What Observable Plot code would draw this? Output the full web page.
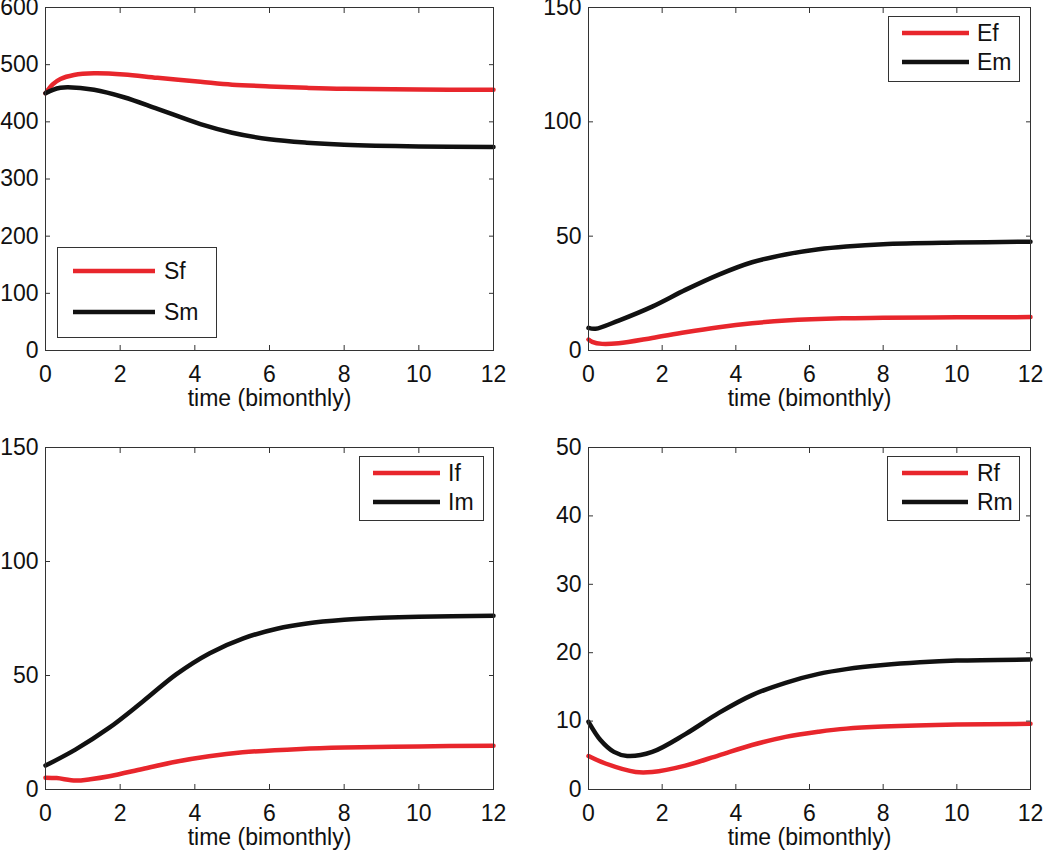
<!DOCTYPE html>
<html>
<head>
<meta charset="utf-8">
<script src="https://cdn.jsdelivr.net/npm/d3@7"></script>
<script src="https://cdn.jsdelivr.net/npm/@observablehq/plot@0.6"></script>
<style>
  body { margin: 0; background: #fff; }
  #wrap { position: relative; width: 1050px; height: 851px; font-family: "Liberation Sans", Arial, Helvetica, sans-serif; overflow: hidden; }
  .panel { position: absolute; }
  svg { overflow: visible; }
</style>
</head>
<body>
<div id="wrap"></div>
<script>
// ---- data ----
const xTicks = [0, 2, 4, 6, 8, 10, 12];
const xLabel = "time (bimonthly)";
const seriesColors = ["#e8262c", "#111111"];

// Panel 1: S
const sTf = [0, 0.2, 0.4, 0.76, 1.3, 2.1, 3, 4.15, 5, 6, 7, 8, 10, 12];
const sF  = [450, 466, 475, 482, 485, 483, 477, 470, 465, 462, 459.5, 457.7, 456.5, 456];
const sTm = [0, 0.2, 0.4, 0.6, 1.3, 2.1, 3, 4.15, 5, 6, 7, 8, 10, 12];
const sM  = [450, 456, 459.5, 460.5, 456, 443, 422.7, 396, 381, 369.5, 363.5, 360, 357, 356];
const sLabels = ["Sf", "Sm"];
const sYTicks = [0, 100, 200, 300, 400, 500, 600];

// Panel 2: E
const eTf = [0, 0.1, 0.37, 0.82, 1.73, 2.63, 3.54, 4.44, 5.35, 6.89, 8, 10, 12];
const eF  = [4.8, 3.8, 2.9, 3.2, 5.5, 8.0, 10.2, 11.9, 13.1, 14.1, 14.3, 14.5, 14.6];
const eTm = [0, 0.19, 0.82, 1.73, 2.63, 3.54, 4.44, 5.35, 6.25, 7, 8, 10, 12];
const eM  = [9.9, 9.5, 13.1, 19.2, 26.5, 33.2, 38.6, 42.0, 44.3, 45.5, 46.5, 47.2, 47.6];
const eLabels = ["Ef", "Em"];
const eYTicks = [0, 50, 100, 150];

// Panel 3: I
const iTf = [0, 0.3, 0.81, 1.2, 1.71, 2.6, 3.49, 4.38, 5.28, 6.84, 8, 10, 12];
const iF  = [5.2, 5.0, 3.9, 4.5, 5.8, 9.0, 12.2, 14.6, 16.3, 17.8, 18.4, 18.9, 19.2];
const iTm = [0, 0.8, 1.7, 2.6, 3.5, 4.4, 5.3, 6.2, 7, 8, 9, 10, 12];
const iM  = [10.5, 17.5, 27.0, 38.5, 50.5, 59.8, 66.3, 70.5, 72.8, 74.4, 75.3, 75.8, 76.2];
const iLabels = ["If", "Im"];
const iYTicks = [0, 50, 100, 150];

// Panel 4: R
const rTf = [0, 0.46, 1.28, 1.73, 2.63, 3.54, 4.44, 5.35, 6.25, 7, 8, 10, 12];
const rF  = [4.9, 3.8, 2.55, 2.55, 3.5, 5.0, 6.5, 7.7, 8.45, 8.9, 9.2, 9.5, 9.6];
const rTm = [0, 0.33, 0.69, 1.05, 1.73, 2.63, 3.54, 4.44, 5.35, 6.25, 7, 8, 9, 10, 12];
const rM  = [9.9, 7.2, 5.5, 4.9, 5.5, 8.1, 11.2, 13.8, 15.6, 16.9, 17.6, 18.2, 18.6, 18.85, 19.0];
const rLabels = ["Rf", "Rm"];
const rYTicks = [0, 10, 20, 30, 40, 50];

// ---- drawing ----
const FONT = 23;

function rows(t, v, s) { return t.map((x, i) => ({t: x, v: v[i], s})); }

function panel({left, top, width, height, m, yDomain, yTicks, f, m2, labels, legend}) {
  const data = [...rows(f[0], f[1], labels[0]), ...rows(m2[0], m2[1], labels[1])];
  const plot = Plot.plot({
    width, height,
    marginLeft: m.l, marginRight: m.r, marginTop: m.t, marginBottom: m.b,
    style: {fontFamily: '"Liberation Sans", Arial, sans-serif', fontSize: FONT + "px", color: "#111", background: "transparent", overflow: "visible"},
    x: {domain: [0, 12], ticks: xTicks},
    y: {domain: yDomain, ticks: yTicks},
    color: {domain: labels, range: seriesColors},
    marks: [
      Plot.line(data, {x: "t", y: "v", z: "s", stroke: "s", strokeWidth: 4.5, curve: "catmull-rom"}),
      Plot.axisX({anchor: "bottom", ticks: xTicks, tickSize: 0, tickPadding: 15, fontSize: FONT, label: xLabel, labelAnchor: "center", labelArrow: "none", labelOffset: 55}),
      Plot.axisX({anchor: "bottom", ticks: xTicks, tickSize: -5, text: null, label: null, stroke: "#333"}),
      Plot.axisX({anchor: "top", ticks: xTicks, tickSize: -5, text: null, label: null, stroke: "#333"}),
      Plot.axisY({anchor: "left", ticks: yTicks, tickSize: 0, tickPadding: 7, fontSize: FONT, label: null}),
      Plot.axisY({anchor: "left", ticks: yTicks, tickSize: -5, text: null, label: null, stroke: "#333"}),
      Plot.axisY({anchor: "right", ticks: yTicks, tickSize: -5, text: null, label: null, stroke: "#333"}),
      Plot.frame({stroke: "#333", strokeWidth: 1})
    ]
  });
  const div = document.createElement("div");
  div.className = "panel";
  div.style.left = left + "px";
  div.style.top = top + "px";
  div.appendChild(plot);
  document.getElementById("wrap").appendChild(div);

  // legend box (MATLAB style)
  const svg = d3.select(plot);
  const g = svg.append("g").attr("text-anchor", "start");
  g.append("rect")
    .attr("x", legend.x0 + 0.5).attr("y", legend.y0 + 0.5)
    .attr("width", legend.x1 - legend.x0).attr("height", legend.y1 - legend.y0)
    .attr("fill", "#fff").attr("stroke", "#333").attr("stroke-width", 1);
  labels.forEach((lab, i) => {
    const y = legend.rows[i];
    g.append("line")
      .attr("x1", legend.lx0).attr("x2", legend.lx1)
      .attr("y1", y).attr("y2", y)
      .attr("stroke", seriesColors[i]).attr("stroke-width", 4.5);
    g.append("text")
      .attr("x", legend.tx).attr("y", y)
      .attr("dy", "0.36em")
      .attr("text-anchor", "start")
      .attr("fill", "#111")
      .style("font-size", FONT + "px")
      .text(lab);
  });
}

panel({left: 0, top: 0, width: 525, height: 420, m: {l: 45, r: 32, t: 7, b: 70},
  yDomain: [0, 600], yTicks: sYTicks, f: [sTf, sF], m2: [sTm, sM], labels: sLabels,
  legend: {x0: 57, y0: 247, x1: 216, y1: 337, lx0: 73, lx1: 155, rows: [271, 312], tx: 164}});

panel({left: 525, top: 0, width: 525, height: 420, m: {l: 63, r: 20, t: 7, b: 70},
  yDomain: [0, 150], yTicks: eYTicks, f: [eTf, eF], m2: [eTm, eM], labels: eLabels,
  legend: {x0: 363, y0: 16, x1: 494, y1: 81, lx0: 377, lx1: 444, rows: [33, 62], tx: 452}});

panel({left: 0, top: 420, width: 525, height: 431, m: {l: 45, r: 32, t: 27, b: 62},
  yDomain: [0, 150], yTicks: iYTicks, f: [iTf, iF], m2: [iTm, iM], labels: iLabels,
  legend: {x0: 359, y0: 36, x1: 483, y1: 100, lx0: 373, lx1: 440, rows: [53, 82], tx: 448}});

panel({left: 525, top: 420, width: 525, height: 431, m: {l: 63, r: 20, t: 27, b: 62},
  yDomain: [0, 50], yTicks: rYTicks, f: [rTf, rF], m2: [rTm, rM], labels: rLabels,
  legend: {x0: 362, y0: 36, x1: 494, y1: 100, lx0: 377, lx1: 443, rows: [53, 82], tx: 452}});
</script>
</body>
</html>
